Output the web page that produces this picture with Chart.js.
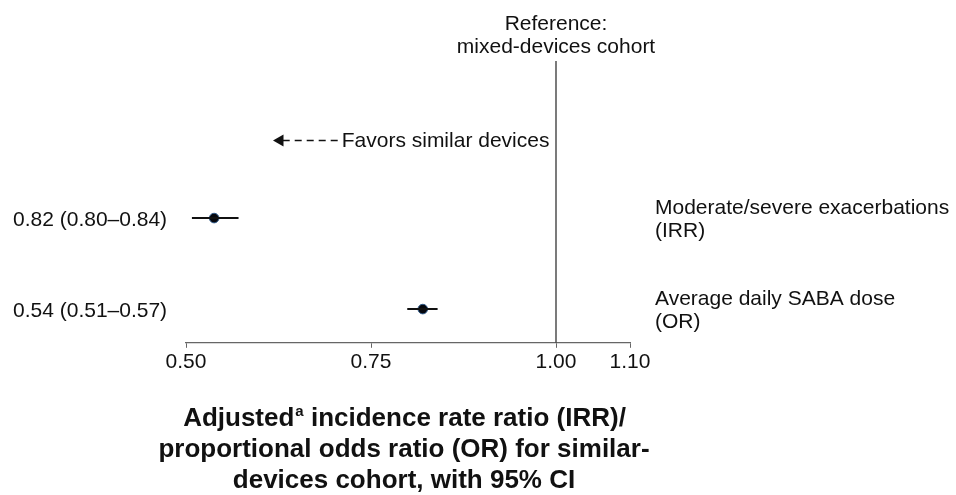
<!DOCTYPE html>
<html>
<head>
<meta charset="utf-8">
<script src="https://cdn.jsdelivr.net/npm/chart.js@4"></script>
<style>
  body{ margin:0; background:#fff; }
  #wrap{ width:956px; height:495px; position:relative; }
</style>
</head>
<body>
<div id="wrap"><canvas id="forest"></canvas></div>
<script>
// rows, top to bottom (as drawn in the figure)
const rowPos = [3.7, 1];
const estimates = [0.538, 0.82];
const ciLow = [0.508, 0.799];
const ciHigh = [0.571, 0.84];
const leftLabels = ["0.82 (0.80–0.84)", "0.54 (0.51–0.57)"];
const outcomeLabels = [["Moderate/severe exacerbations", "(IRR)"], ["Average daily SABA dose", "(OR)"]];
const xTicks = [0.5, 0.75, 1.0, 1.1];
const refValue = 1.0;
const refLabel = ["Reference:", "mixed-devices cohort"];
const arrowX = [0.705, 0.627];
const arrowRow = 6;
const arrowLabel = "Favors similar devices";
const yTop = 8.36;

const FONT = "'Liberation Sans', Arial, Helvetica, sans-serif";

// --------- datasets ----------
const datasets = [];
// reference line
datasets.push({ data:[{x:refValue, y:0},{x:refValue, y:yTop}], showLine:true, borderColor:"#333", borderWidth:1.3, pointRadius:0 });
// CI whiskers
rowPos.forEach((r,i)=>{
  datasets.push({ data:[{x:ciLow[i], y:r},{x:ciHigh[i], y:r}], showLine:true, borderColor:"#111", borderWidth:2, pointRadius:0 });
});
// point estimates
datasets.push({
  data: rowPos.map((r,i)=>({x:estimates[i], y:r})),
  pointRadius:4.8, pointBackgroundColor:"#05070d", pointBorderColor:"#2f5a8a", pointBorderWidth:1
});
// arrow
datasets.push({
  data: arrowX.map(v=>({x:v, y:arrowRow})),
  showLine:true, borderColor:"#111", borderWidth:1.4, borderDash:[7,5],
  pointRadius:[0,7], pointStyle:"triangle", rotation:-90,
  pointBackgroundColor:"#111", pointBorderColor:"#111", pointBorderWidth:0
});

// --------- text plugin ----------
const textPlugin = {
  id:"forestText",
  afterDraw(chart){
    const ctx = chart.ctx, xs = chart.scales.x, ys = chart.scales.y;
    ctx.save();
    ctx.fillStyle = "#111";
    ctx.font = "21px " + FONT;
    ctx.textBaseline = "middle";
    rowPos.forEach((r,i)=>{
      const py = ys.getPixelForValue(r);
      ctx.textAlign = "left";
      ctx.fillText(leftLabels[i], 13, py + 2);
      const lines = outcomeLabels[i];
      lines.forEach((t,k)=>{
        ctx.fillText(t, chart.chartArea.right + 25, py + 2 + (k - (lines.length-1)/2) * 23);
      });
    });
    // reference label
    ctx.textAlign = "center";
    ctx.textBaseline = "alphabetic";
    const rx = xs.getPixelForValue(refValue);
    ctx.fillText(refLabel[0], rx, 30);
    ctx.fillText(refLabel[1], rx, 53);
    // arrow label
    ctx.textAlign = "left";
    ctx.textBaseline = "middle";
    ctx.fillText(arrowLabel, xs.getPixelForValue(arrowX[0]) + 4, ys.getPixelForValue(arrowRow) + 1);

    // title
    const cx = (chart.chartArea.left + chart.chartArea.right)/2 - 4;
    ctx.textBaseline = "alphabetic";
    ctx.textAlign = "left";
    const big = "bold 26px " + FONT, small = "bold 15px " + FONT;
    ctx.font = big;
    const p1 = "Adjusted", p3 = " incidence rate ratio (IRR)/";
    const w1 = ctx.measureText(p1).width, w3 = ctx.measureText(p3).width;
    ctx.font = small;
    const w2 = ctx.measureText("a").width;
    let x0 = cx - (w1 + w2 + w3)/2;
    ctx.font = big; ctx.fillText(p1, x0, 426);
    ctx.font = small; ctx.fillText("a", x0 + w1 + 1, 416);
    ctx.font = big; ctx.fillText(p3, x0 + w1 + w2 + 1, 426);
    ctx.textAlign = "center";
    ctx.fillText("proportional odds ratio (OR) for similar-", cx, 457);
    ctx.fillText("devices cohort, with 95% CI", cx, 488);
    ctx.restore();
  }
};

new Chart(document.getElementById("forest"), {
  type:"scatter",
  data:{ datasets },
  options:{
    responsive:true, maintainAspectRatio:false, animation:false,
    layout:{ padding:{ left:186, right:326, top:61, bottom:118 } },
    plugins:{ legend:{display:false}, tooltip:{enabled:false} },
    scales:{
      x:{
        type:"linear", min:0.5, max:1.1,
        afterBuildTicks: s => { s.ticks = xTicks.map(v=>({value:v})); },
        grid:{ drawOnChartArea:false, drawTicks:true, tickLength:5, color:"#666" },
        border:{ color:"#666", width:1.3 },
        ticks:{ color:"#111", padding:2, font:{ size:21, family:FONT }, maxRotation:0, autoSkip:false,
          callback: v => Number(v).toFixed(2) }
      },
      y:{ type:"linear", min:0, max:yTop, display:false }
    }
  },
  plugins:[textPlugin]
});
</script>
</body>
</html>
